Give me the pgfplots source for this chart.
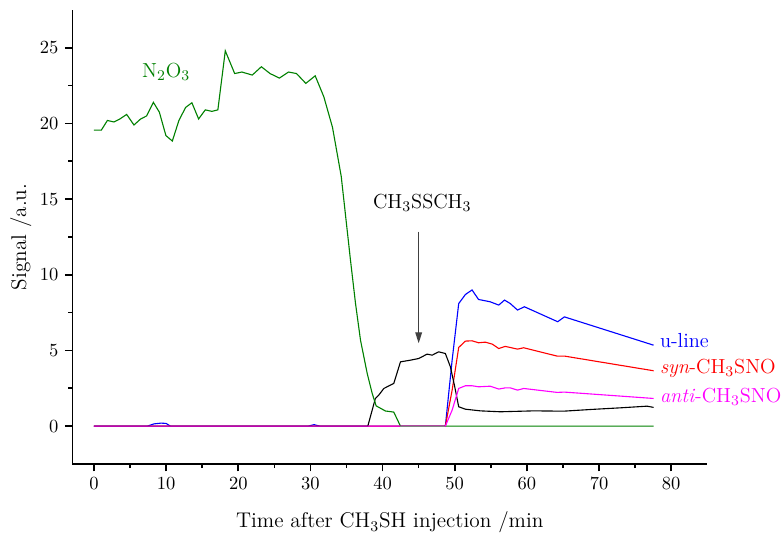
\documentclass[border=0pt]{standalone}
\usepackage{pgfplots}
\pgfplotsset{compat=1.18}
\usetikzlibrary{arrows.meta}

\definecolor{ngreen}{RGB}{0,128,0}
\definecolor{nmagenta}{RGB}{255,0,255}
\definecolor{arrowgray}{RGB}{64,64,64}

\begin{document}
\begin{tikzpicture}
\begin{axis}[
    scale only axis,
    width=343.2pt, height=245.4pt,
    xmin=-3, xmax=85, ymin=-2.5, ymax=27.5,
    axis lines=left,
    axis line style={-, line width=0.9pt},
    tick align=outside,
    major tick length=4pt, minor tick length=2.3pt,
    every tick/.style={black, line width=0.9pt},
    xtick={0,10,...,80}, ytick={0,5,...,25},
    minor x tick num=1, minor y tick num=1,
    tick label style={font=\fontsize{10}{12}\selectfont},
    label style={font=\fontsize{11.5}{14}\selectfont},
    xlabel={Time after CH$_3$SH injection /min},
    ylabel={Signal /a.u.},
    xlabel style={yshift=-5pt},
    ylabel style={yshift=-2.3pt},
    clip=false,
    every axis plot/.append style={line width=0.6pt},
]
% u-line
\addplot[blue] coordinates {
    (0,0)(7.4,0)(8.3,0.15)(9.3,0.2)(10.0,0.18)(10.6,0)(29.7,0)(30.5,0.1)(31.3,0)
    (48.7,0)(49.64,4.36)(50.55,8.1)(51.48,8.7)(52.4,9.0)(53.3,8.37)(54.9,8.22)
    (56.1,8.0)(56.9,8.33)(57.7,8.1)(58.7,7.67)(59.65,7.89)(64.27,6.9)(65.2,7.22)(77.56,5.35)
};
% syn-CH3SNO
\addplot[red] coordinates {
    (0,0)(48.7,0)(49.64,2.38)(50.55,5.2)(51.48,5.62)(52.4,5.64)(53.3,5.51)(54.25,5.55)
    (55.2,5.42)(56.1,5.13)(57.0,5.27)(58.7,5.09)(59.56,5.18)(64.18,4.63)(65.2,4.63)(77.56,3.66)
};
% CH3SSCH3
\addplot[black] coordinates {
    (0,0)(37.95,0)(39.0,1.83)(39.47,2.05)(40.17,2.49)(41.55,2.82)(42.48,4.25)(43.86,4.36)
    (45.0,4.47)(46.18,4.76)(46.87,4.69)(47.78,4.91)(48.7,4.8)(49.4,3.92)(50.0,2.6)
    (50.55,1.28)(51.48,1.12)(53.56,1.01)(56.33,0.95)(60.94,1.01)(65.1,0.99)(68.8,1.1)
    (72.95,1.21)(76.65,1.32)(77.56,1.24)
};
% N2O3
\addplot[ngreen] coordinates {
    (0,19.56)(1.02,19.56)(1.86,20.2)(2.77,20.1)(3.6,20.3)(4.53,20.6)(5.54,19.9)(6.47,20.3)
    (7.3,20.5)(8.23,21.4)(9.06,20.75)(9.97,19.2)(10.86,18.84)(11.77,20.2)(12.7,21.06)
    (13.57,21.37)(14.5,20.3)(15.43,20.9)(16.34,20.8)(17.17,20.9)(18.2,24.8)(19.5,23.3)
    (20.5,23.4)(21.94,23.2)(23.2,23.75)(24.4,23.3)(25.7,23.0)(26.97,23.4)(28.07,23.3)
    (29.36,22.65)(30.66,23.15)(31.86,21.76)(33.06,19.74)(34.27,16.5)(35.55,10.97)
    (36.25,8.1)(36.94,5.68)(37.87,3.48)(38.56,2.16)(39.11,1.34)(40.4,1.0)(41.55,0.93)
    (42.48,0)(77.56,0)
};
% anti-CH3SNO
\addplot[nmagenta] coordinates {
    (0,0)(48.7,0)(49.64,1.06)(50.55,2.49)(51.48,2.67)(52.4,2.67)(53.3,2.6)(54.9,2.64)
    (56.1,2.45)(57.0,2.53)(57.7,2.53)(58.7,2.38)(59.56,2.49)(64.18,2.23)(65.2,2.25)(77.56,1.83)
};
\addplot[gray] coordinates {(42.48,0)(48.7,0)};

\node[ngreen, font=\fontsize{11}{13}\selectfont] at (axis cs:10.0,23.4) {N$_2$O$_3$};
\node[font=\fontsize{11}{13}\selectfont] at (axis cs:45.5,14.74) {CH$_3$SSCH$_3$};
\draw[arrowgray, line width=0.7pt, -{Triangle[length=6pt,width=3.6pt]}]
    (axis cs:45.0,12.85) -- (axis cs:45.0,5.47);
\node[blue, anchor=west, inner sep=0pt, font=\fontsize{11}{13}\selectfont]
    at (axis cs:78.4,5.68) {u-line};
\node[red, anchor=west, inner sep=0pt, font=\fontsize{11}{13}\selectfont]
    at (axis cs:78.4,3.81) {\textit{syn}-CH$_3$SNO};
\node[nmagenta, anchor=west, inner sep=0pt, font=\fontsize{11}{13}\selectfont]
    at (axis cs:78.4,1.94) {\textit{anti}-CH$_3$SNO};
\end{axis}
\pgfresetboundingbox
\path ([xshift=-39.1pt,yshift=-37.8pt]current axis.south west)
    rectangle ([xshift=40.4pt,yshift=5.4pt]current axis.north east);
\end{tikzpicture}
\end{document}
